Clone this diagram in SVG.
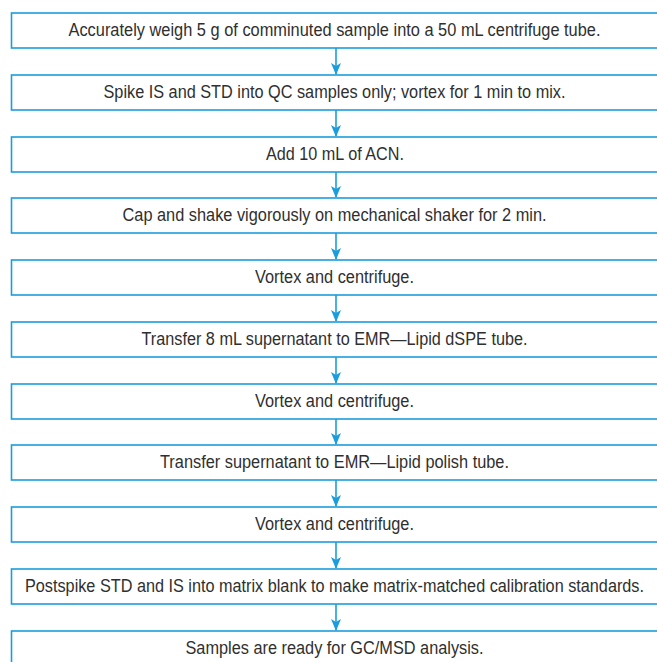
<svg xmlns="http://www.w3.org/2000/svg" width="657" height="662" viewBox="0 0 657 662">
<defs>
<style>
.box{fill:#fff;stroke:#1b9ddd;stroke-width:1.6}
.lbl{font-family:"Liberation Sans Narrow","Liberation Sans",Arial,sans-serif;font-size:17.5px;fill:#2f2f2f;text-anchor:middle}
.con{stroke:#1b9ddd;stroke-width:1.6;fill:none}
.head{fill:#1b9ddd}
</style>
<path id="ah" class="head" d="M-5,-12 L0,-9 L5,-12 L0,0 Z"/>
</defs>
<rect width="657" height="662" fill="#fff"/>
<g id="connectors">
<line class="con" x1="336" y1="48" x2="336" y2="74"/><use href="#ah" x="336" y="75"/>
<line class="con" x1="336" y1="110" x2="336" y2="136"/><use href="#ah" x="336" y="137"/>
<line class="con" x1="336" y1="172" x2="336" y2="197"/><use href="#ah" x="336" y="198"/>
<line class="con" x1="336" y1="233" x2="336" y2="259"/><use href="#ah" x="336" y="260"/>
<line class="con" x1="336" y1="295" x2="336" y2="321"/><use href="#ah" x="336" y="322"/>
<line class="con" x1="336" y1="357" x2="336" y2="383"/><use href="#ah" x="336" y="384"/>
<line class="con" x1="336" y1="419" x2="336" y2="444"/><use href="#ah" x="336" y="445"/>
<line class="con" x1="336" y1="480" x2="336" y2="506"/><use href="#ah" x="336" y="507"/>
<line class="con" x1="336" y1="542" x2="336" y2="568"/><use href="#ah" x="336" y="569"/>
<line class="con" x1="336" y1="604" x2="336" y2="630"/><use href="#ah" x="336" y="631"/>
</g>
<g id="n1"><rect class="box" x="11.5" y="13" width="648" height="35"/><text class="lbl" x="334.5" y="36" textLength="532" lengthAdjust="spacingAndGlyphs">Accurately weigh 5 g of comminuted sample into a 50 mL centrifuge tube.</text></g>
<g id="n2"><rect class="box" x="11.5" y="75" width="648" height="35"/><text class="lbl" x="334.5" y="98" textLength="462" lengthAdjust="spacingAndGlyphs">Spike IS and STD into QC samples only; vortex for 1 min to mix.</text></g>
<g id="n3"><rect class="box" x="11.5" y="137" width="648" height="35"/><text class="lbl" x="335" y="160" textLength="138" lengthAdjust="spacingAndGlyphs">Add 10 mL of ACN.</text></g>
<g id="n4"><rect class="box" x="11.5" y="198" width="648" height="35"/><text class="lbl" x="334.5" y="221" textLength="424" lengthAdjust="spacingAndGlyphs">Cap and shake vigorously on mechanical shaker for 2 min.</text></g>
<g id="n5"><rect class="box" x="11.5" y="260" width="648" height="35"/><text class="lbl" x="334.5" y="282.5" textLength="159" lengthAdjust="spacingAndGlyphs">Vortex and centrifuge.</text></g>
<g id="n6"><rect class="box" x="11.5" y="322" width="648" height="35"/><text class="lbl" x="334.5" y="345" textLength="386" lengthAdjust="spacingAndGlyphs">Transfer 8 mL supernatant to EMR—Lipid dSPE tube.</text></g>
<g id="n7"><rect class="box" x="11.5" y="384" width="648" height="35"/><text class="lbl" x="334.5" y="406.5" textLength="159" lengthAdjust="spacingAndGlyphs">Vortex and centrifuge.</text></g>
<g id="n8"><rect class="box" x="11.5" y="445" width="648" height="35"/><text class="lbl" x="334.5" y="468" textLength="349" lengthAdjust="spacingAndGlyphs">Transfer supernatant to EMR—Lipid polish tube.</text></g>
<g id="n9"><rect class="box" x="11.5" y="507" width="648" height="35"/><text class="lbl" x="334.5" y="529.5" textLength="159" lengthAdjust="spacingAndGlyphs">Vortex and centrifuge.</text></g>
<g id="n10"><rect class="box" x="11.5" y="569" width="648" height="35"/><text class="lbl" x="334.5" y="592" textLength="619" lengthAdjust="spacingAndGlyphs">Postspike STD and IS into matrix blank to make matrix-matched calibration standards.</text></g>
<g id="n11"><rect class="box" x="11.5" y="631" width="648" height="35"/><text class="lbl" x="334.5" y="654" textLength="298" lengthAdjust="spacingAndGlyphs">Samples are ready for GC/MSD analysis.</text></g>
</svg>
